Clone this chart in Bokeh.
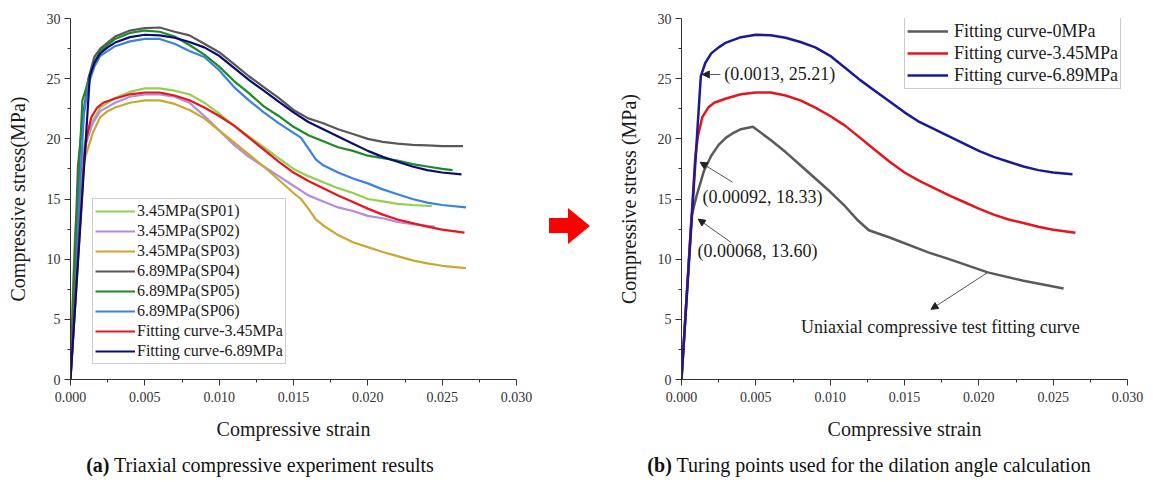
from bokeh.plotting import figure
from bokeh.models import (Range1d, FixedTicker, PrintfTickFormatter, Legend, LegendItem,
                          Arrow, NormalHead, Label, Div)
from bokeh.layouts import row, column
from bokeh.embed import file_html
from bokeh.resources import INLINE

FONT = "Liberation Serif"

# ---------------- data ----------------
x_ticks = [0.0, 0.005, 0.010, 0.015, 0.020, 0.025, 0.030]
x_minor = [0.0025, 0.0075, 0.0125, 0.0175, 0.0225, 0.0275]
y_ticks = [0, 5, 10, 15, 20, 25, 30]
y_minor = [2.5, 7.5, 12.5, 17.5, 22.5, 27.5]

sp01_x = [0, 0.0001, 0.0003, 0.0006, 0.001, 0.0015, 0.002, 0.003, 0.004, 0.005, 0.006, 0.007, 0.008,
          0.009, 0.010, 0.011, 0.012, 0.013, 0.014, 0.015, 0.016, 0.017, 0.018, 0.019, 0.020, 0.021,
          0.022, 0.023, 0.0243]
sp01_y = [0, 5, 12, 17, 19.8, 21.5, 22.6, 23.4, 23.9, 24.2, 24.2, 24.0, 23.7, 23.0, 22.1, 21.1,
          20.2, 19.3, 18.4, 17.5, 16.9, 16.4, 15.9, 15.5, 15.0, 14.8, 14.6, 14.5, 14.4]

sp02_x = [0, 0.0002, 0.0004, 0.0007, 0.001, 0.0015, 0.002, 0.003, 0.004, 0.005, 0.006, 0.007, 0.008,
          0.009, 0.010, 0.011, 0.012, 0.013, 0.014, 0.015, 0.016, 0.017, 0.018, 0.019, 0.020, 0.021,
          0.022, 0.023, 0.0245]
sp02_y = [0, 7, 13, 17.5, 19.5, 21.3, 22.3, 23.0, 23.5, 23.7, 23.7, 23.5, 23.0, 21.9, 20.7, 19.5,
          18.5, 17.7, 16.9, 16.1, 15.3, 14.8, 14.3, 14.0, 13.6, 13.4, 13.1, 12.9, 12.7]

sp03_x = [0, 0.0002, 0.0004, 0.0007, 0.001, 0.0015, 0.002, 0.0025, 0.003, 0.004, 0.005, 0.006, 0.007,
          0.008, 0.009, 0.010, 0.011, 0.012, 0.013, 0.014, 0.015, 0.0155, 0.016, 0.0165, 0.017,
          0.018, 0.019, 0.020, 0.021, 0.022, 0.023, 0.024, 0.025, 0.0266]
sp03_y = [0, 6, 12, 16.5, 18.5, 20.5, 21.8, 22.3, 22.6, 23.0, 23.2, 23.2, 22.9, 22.4, 21.7, 20.7,
          19.7, 18.7, 17.7, 16.6, 15.5, 15.0, 14.2, 13.3, 12.8, 12.0, 11.4, 11.0, 10.6, 10.25, 9.9,
          9.65, 9.45, 9.25]

sp04_x = [0, 0.0002, 0.0004, 0.0005, 0.0008, 0.0012, 0.0016, 0.002, 0.003, 0.004, 0.005, 0.006,
          0.007, 0.008, 0.009, 0.010, 0.011, 0.012, 0.013, 0.014, 0.015, 0.016, 0.017, 0.018, 0.019,
          0.020, 0.021, 0.022, 0.023, 0.024, 0.025, 0.0264]
sp04_y = [0, 8, 14, 17.7, 21.5, 25.0, 26.8, 27.5, 28.5, 29.0, 29.2, 29.25, 28.9, 28.6, 27.9, 27.2,
          26.2, 25.2, 24.3, 23.4, 22.4, 21.7, 21.3, 20.8, 20.4, 20.0, 19.75, 19.6, 19.5, 19.45,
          19.4, 19.4]

sp05_x = [0, 0.0002, 0.0004, 0.0006, 0.0008, 0.001, 0.0013, 0.0017, 0.002, 0.003, 0.004, 0.005,
          0.006, 0.007, 0.008, 0.009, 0.010, 0.011, 0.012, 0.013, 0.014, 0.015, 0.016, 0.017, 0.018,
          0.019, 0.020, 0.021, 0.022, 0.023, 0.024, 0.025, 0.0257]
sp05_y = [0, 6, 12, 18, 23.2, 24.0, 25.3, 26.6, 27.3, 28.3, 28.8, 29.0, 28.9, 28.5, 27.8, 27.0,
          26.0, 24.8, 23.8, 22.7, 21.9, 21.0, 20.3, 19.8, 19.3, 19.0, 18.6, 18.4, 18.2, 17.9, 17.7,
          17.5, 17.4]

sp06_x = [0, 0.0003, 0.0005, 0.0007, 0.0009, 0.0012, 0.0016, 0.002, 0.003, 0.004, 0.005, 0.006,
          0.007, 0.008, 0.009, 0.010, 0.011, 0.012, 0.013, 0.014, 0.015, 0.0155, 0.016, 0.0165,
          0.017, 0.018, 0.019, 0.020, 0.021, 0.022, 0.023, 0.024, 0.025, 0.0266]
sp06_y = [0, 6, 12, 17.5, 22, 24.5, 26.0, 26.9, 27.7, 28.1, 28.3, 28.3, 27.9, 27.3, 26.8, 25.7,
          24.3, 23.2, 22.2, 21.3, 20.5, 20.1, 19.2, 18.3, 17.8, 17.2, 16.7, 16.3, 15.8, 15.4, 15.0,
          14.7, 14.5, 14.3]

fit345_x = [0, 0.00092, 0.0011, 0.0014, 0.0018, 0.0022, 0.003, 0.004, 0.005, 0.006, 0.007, 0.008,
            0.009, 0.010, 0.011, 0.012, 0.013, 0.014, 0.015, 0.016, 0.017, 0.018, 0.019, 0.020,
            0.021, 0.022, 0.023, 0.024, 0.025, 0.0265]
fit345_y = [0, 18.33, 20.2, 21.8, 22.6, 23.0, 23.35, 23.7, 23.85, 23.85, 23.6, 23.2, 22.6, 21.9,
            21.1, 20.1, 19.1, 18.1, 17.2, 16.5, 15.9, 15.3, 14.75, 14.2, 13.7, 13.3, 13.0, 12.7,
            12.45, 12.2]

fit689_x = [0, 0.0013, 0.0016, 0.002, 0.0025, 0.003, 0.004, 0.005, 0.006, 0.007, 0.008, 0.009,
            0.010, 0.011, 0.012, 0.013, 0.014, 0.015, 0.016, 0.017, 0.018, 0.019, 0.020, 0.021,
            0.022, 0.023, 0.024, 0.025, 0.0263]
fit689_y = [0, 25.21, 26.3, 27.1, 27.6, 28.0, 28.45, 28.65, 28.6, 28.4, 28.05, 27.6, 26.9, 25.9,
            24.9, 24.0, 23.1, 22.2, 21.4, 20.8, 20.2, 19.6, 19.0, 18.5, 18.1, 17.7, 17.4, 17.2,
            17.05]

fit0_x = [0, 0.00068, 0.001, 0.0015, 0.002, 0.0025, 0.003, 0.0035, 0.004, 0.0048, 0.006, 0.007,
          0.008, 0.009, 0.010, 0.011, 0.0118, 0.0126, 0.014, 0.0166, 0.018, 0.0206, 0.023, 0.0257]
fit0_y = [0, 13.6, 15.2, 17.3, 18.6, 19.5, 20.1, 20.5, 20.8, 21.0, 19.9, 18.9, 17.8, 16.7, 15.6,
          14.4, 13.3, 12.4, 11.8, 10.56, 10.0, 8.9, 8.2, 7.56]

left_names = ["3.45MPa(SP01)", "3.45MPa(SP02)", "3.45MPa(SP03)", "6.89MPa(SP04)",
              "6.89MPa(SP05)", "6.89MPa(SP06)", "Fitting curve-3.45MPa", "Fitting curve-6.89MPa"]
right_names = ["Fitting curve-0MPa", "Fitting curve-3.45MPa", "Fitting curve-6.89MPa"]

turn_labels = ["(0.0013, 25.21)", "(0.00092, 18.33)", "(0.00068, 13.60)"]
turn_text_x = [0.00287, 0.00141, 0.00108]
turn_text_y = [25.4, 15.15, 10.7]
turn_arrow_start = [(0.00262, 25.35), (0.00343, 16.4), (0.00332, 11.4)]
turn_arrow_end = [(0.0014, 25.35), (0.00125, 18.06), (0.00112, 13.33)]
uni_label = "Uniaxial compressive test fitting curve"
uni_text_pos = (0.00803, 4.4)
uni_arrow = ((0.0206, 8.9), (0.01678, 5.83))

left_colors = ["#92d050", "#b58be0", "#c8a830", "#585858", "#1e8a24", "#3b82e0", "#e8161c", "#0c0c70"]
right_colors = ["#5a5a5a", "#e3161c", "#1a1a96"]

TXT = "#1a1a1a"
FIG_H = 446


def make_fig(width, min_left, min_right, ylabel):
    p = figure(width=width, height=FIG_H, output_backend="svg", toolbar_location=None,
               x_range=Range1d(0, 0.030), y_range=Range1d(0, 30),
               min_border_left=min_left, min_border_right=min_right,
               min_border_top=18, min_border_bottom=67)
    p.xgrid.visible = False
    p.ygrid.visible = False
    p.outline_line_color = None
    p.background_fill_color = "white"
    p.border_fill_color = "white"
    p.xaxis.ticker = FixedTicker(ticks=x_ticks, minor_ticks=x_minor)
    p.yaxis.ticker = FixedTicker(ticks=y_ticks, minor_ticks=y_minor)
    p.xaxis.formatter = PrintfTickFormatter(format="%.3f")
    p.yaxis.formatter = PrintfTickFormatter(format="%d")
    for ax in (p.xaxis[0], p.yaxis[0]):
        ax.axis_line_color = "#333333"
        ax.major_tick_line_color = "#333333"
        ax.minor_tick_line_color = "#333333"
        ax.major_tick_out = 6
        ax.major_tick_in = 0
        ax.minor_tick_out = 3
        ax.minor_tick_in = 0
        ax.major_label_text_font = FONT
        ax.major_label_text_font_size = "14px"
        ax.major_label_text_color = "#333333"
        ax.axis_label_text_font = FONT
        ax.axis_label_text_font_size = "20px"
        ax.axis_label_text_font_style = "normal"
        ax.axis_label_text_color = TXT
    p.xaxis.axis_label = "Compressive strain"
    p.yaxis.axis_label = ylabel
    p.xaxis.major_label_standoff = 6
    p.xaxis.axis_label_standoff = 13
    p.yaxis.major_label_standoff = 4
    p.yaxis.axis_label_standoff = 15
    return p


def style_legend(lg, font_size, row_h, glyph_w, standoff):
    lg.label_text_font = FONT
    lg.label_text_font_size = font_size
    lg.label_text_color = TXT
    lg.border_line_color = "#9a9a9a"
    lg.border_line_width = 1
    lg.background_fill_color = "white"
    lg.background_fill_alpha = 1
    lg.padding = 2
    lg.spacing = 0
    lg.margin = 0
    lg.glyph_width = glyph_w
    lg.glyph_height = row_h
    lg.label_height = row_h
    lg.label_standoff = standoff


# ---------------- left panel ----------------
p1 = make_fig(548, 70, 32, "Compressive stress(MPa)")
series = [(sp01_x, sp01_y), (sp02_x, sp02_y), (sp03_x, sp03_y), (sp04_x, sp04_y),
          (sp05_x, sp05_y), (sp06_x, sp06_y), (fit345_x, fit345_y), (fit689_x, fit689_y)]
items = []
for (xs, ys), name, col in zip(series, left_names, left_colors):
    r = p1.line(xs, ys, line_color=col, line_width=2.2)
    items.append(LegendItem(label=name, renderers=[r]))
leg1 = Legend(items=items, location=(22, 15))
style_legend(leg1, "16px", 20, 40, 2)
p1.add_layout(leg1)

# ---------------- block arrow between the panels (decoration) ----------------
arrow_svg = ('<svg width="63" height="446" xmlns="http://www.w3.org/2000/svg">'
             '<polygon points="1,218 20,218 20,208 42,226 20,244 20,233 1,233" fill="#ff0000"/></svg>')
mid = Div(text=arrow_svg, width=63, height=FIG_H, margin=0)

# ---------------- right panel ----------------
p2 = make_fig(534, 70, 18, "Compressive stress (MPa)")
items2 = []
for (xs, ys), name, col in zip([(fit0_x, fit0_y), (fit345_x, fit345_y), (fit689_x, fit689_y)],
                               right_names, right_colors):
    r = p2.line(xs, ys, line_color=col, line_width=2.5)
    items2.append(LegendItem(label=name, renderers=[r]))
leg2 = Legend(items=items2, location=(223, 290))
style_legend(leg2, "18px", 22, 41, 6)
p2.add_layout(leg2)

for txt, tx, ty, (xs0, ys0), (xe, ye) in zip(turn_labels, turn_text_x, turn_text_y,
                                             turn_arrow_start, turn_arrow_end):
    p2.add_layout(Arrow(end=NormalHead(size=7, fill_color="#222222", line_color="#222222"),
                        x_start=xs0, y_start=ys0, x_end=xe, y_end=ye,
                        line_color="#555555", line_width=1))
    p2.add_layout(Label(x=tx, y=ty, text=txt, text_font=FONT, text_font_size="18px",
                        text_color=TXT, text_baseline="middle", text_align="left"))

p2.add_layout(Arrow(end=NormalHead(size=7, fill_color="#222222", line_color="#222222"),
                    x_start=uni_arrow[0][0], y_start=uni_arrow[0][1],
                    x_end=uni_arrow[1][0], y_end=uni_arrow[1][1],
                    line_color="#555555", line_width=1))
p2.add_layout(Label(x=uni_text_pos[0], y=uni_text_pos[1], text=uni_label, text_font=FONT,
                    text_font_size="18px", text_color=TXT, text_baseline="middle",
                    text_align="left"))

# ---------------- captions ----------------
cap_style = ("font-family:'Liberation Serif',serif;font-size:20px;line-height:22px;"
             "padding-top:8px;color:#111;text-align:center;white-space:nowrap;")
divA = Div(text=f'<div style="{cap_style}width:520px;"><b>(a)</b> Triaxial compressive experiment results</div>',
           width=548, height=34, margin=0)
divB = Div(text=f'<div style="{cap_style}width:552px;margin-left:45px;"><b>(b)</b> Turing points used for the dilation angle calculation</div>',
           width=597, height=34, margin=0)

layout = column(row(p1, mid, p2), row(divA, divB))

open("out.html", "w").write(file_html(layout, INLINE))
